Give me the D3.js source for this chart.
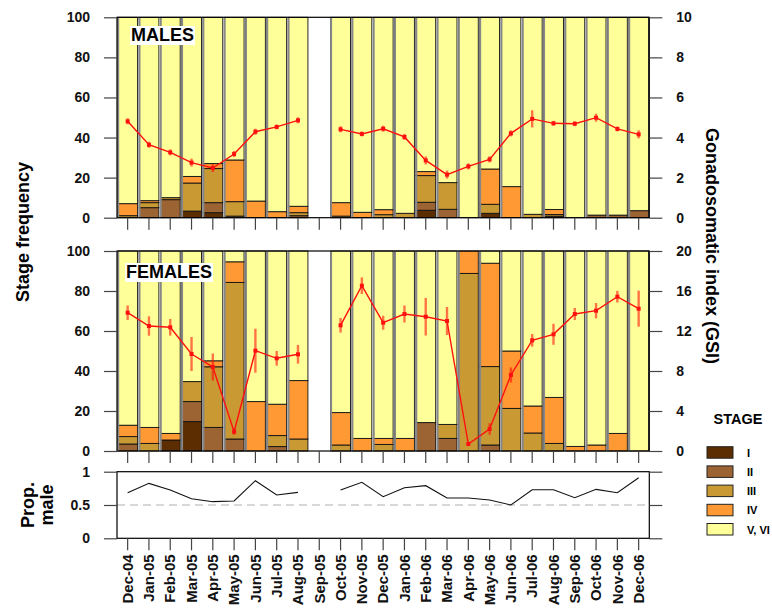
<!DOCTYPE html>
<html><head><meta charset="utf-8">
<script src="https://cdn.jsdelivr.net/npm/d3@7"></script>
<style>body{margin:0;background:#fff}svg{display:block;font-family:"Liberation Sans",Arial,sans-serif;font-weight:bold}</style>
</head><body>
<svg id="c" width="772" height="615"></svg>
<script>
const months = ["Dec-04","Jan-05","Feb-05","Mar-05","Apr-05","May-05","Jun-05","Jul-05","Aug-05","Sep-05","Oct-05","Nov-05","Dec-05","Jan-06","Feb-06","Mar-06","Apr-06","May-06","Jun-06","Jul-06","Aug-06","Sep-06","Oct-06","Nov-06","Dec-06"];
const stages = ["I","II","III","IV","V, VI"];
const stageColors = ["#5c2d00","#9c6433","#c99a33","#ff9933","#ffff99"];

const maleI   = [0,0,0,3.3,2.5,0,0,0,0,null,0,0,0,0,3.7,0,0,2.2,0,0,0.8,0,0,0,0];
const maleII  = [0,5,9,0,5,0.8,0,0,1,null,0,0,0,0,4,4.2,0,0,0,0,0,0,1.3,1.3,3.5];
const maleIII = [1,2.5,1,14,17,7.2,0,0,1.5,null,0.8,0,1.5,2.2,13.3,13.3,0,4.5,0,1.7,0.8,0,0,0,0];
const maleIV  = [6,1,0,3.3,2.5,20.8,8.3,3,3.2,null,6.7,2.7,2.5,0,2,0,0,17.6,15.5,0,2.5,0,0,0,0];
const maleV   = [93,91.5,90,79.4,73,71.2,91.7,97,94.3,null,92.5,97.3,96,97.8,77,82.5,100,75.7,84.5,98.3,95.9,100,98.7,98.7,96.5];

const femI   = [0,0,5.5,14.7,0,0,0,0,0,null,0,0,0,0,0,0,0,0,0,0,0,0,0,0,0];
const femII  = [3.5,0,0,10,11.8,6,0,2.2,0,null,0,0,0,0,14.2,6.3,0,3,0,0,0,0,0,0,0];
const femIII = [3.7,3.8,0,10,30.3,78.3,0,5.5,6,null,3,0,3.3,0,0,7,88.8,39.2,21.3,9,3.8,0,0,0,0];
const femIV  = [5.7,8,3.3,0,3,10.3,24.7,15.7,29.2,null,16.2,6.3,3,6.3,0,0,11.2,51.7,28.7,13.5,23,2.3,3,8.8,0];
const femV   = [87.1,88.2,91.2,65.3,54.9,5.4,75.3,76.6,64.8,null,80.8,93.7,93.7,93.7,85.8,86.7,0,6.1,50,77.5,73.2,97.7,97,91.2,100];

const maleGSI = [4.81,3.64,3.26,2.75,2.48,3.18,4.29,4.53,4.86,null,4.41,4.18,4.44,4.03,2.86,2.15,2.56,2.91,4.21,4.93,4.71,4.69,4.99,4.43,4.16];
const maleErr = [0.15,0.15,0.15,0.2,0.2,0.15,0.15,0.12,0.15,null,0.15,0.12,0.15,0.15,0.2,0.2,0.15,0.15,0.15,0.43,0.12,0.12,0.2,0.12,0.2];
const femGSI  = [13.83,12.5,12.37,9.7,8.4,1.93,10.03,9.27,9.67,null,12.57,16.53,12.83,13.7,13.43,13.0,0.7,2.2,7.6,11.07,11.67,13.7,14.03,15.43,14.23];
const femErr  = [0.72,0.97,0.83,1.7,1.35,0.3,2.2,0.73,0.93,null,0.73,0.83,0.7,0.85,1.88,1.4,0.1,0.58,0.75,0.63,1.05,0.6,0.77,0.58,1.8];
const propMale = [0.685,0.825,0.725,0.595,0.55,0.56,0.865,0.65,0.69,null,0.725,0.84,0.625,0.76,0.79,0.605,0.605,0.575,0.5,0.73,0.73,0.61,0.735,0.685,0.91];

const freqTicks = [0,20,40,60,80,100];
const maleGsiTicks = [0,2,4,6,8,10];
const femGsiTicks = [0,4,8,12,16,20];
const propTicks = [0,0.5,1];

const svg = d3.select("#c");
const x = d3.scaleBand().domain(months).range([117, 649.3]).padding(0);
const L = 117, R = 649.3;

function panel(cfg){
  const y = d3.scaleLinear().domain([0,100]).range([cfg.bottom, cfg.top]);
  const y2 = d3.scaleLinear().domain([0,cfg.gsiMax]).range([cfg.bottom, cfg.top]);
  const g = svg.append("g");
  const series = cfg.stacks;
  const bw = x.bandwidth() - 1.6;
  months.forEach((m,i)=>{
    if (series[0][i] === null) return;
    const bx = x(m) + 0.9;
    let acc = 0;
    series.forEach((s,k)=>{
      const v = s[i];
      if (v > 0){
        g.append("rect").attr("x", bx).attr("width", bw)
          .attr("y", y(acc+v)).attr("height", y(acc)-y(acc+v))
          .attr("fill", stageColors[k]).attr("stroke", "#111").attr("stroke-width", 0.9);
      }
      acc += v;
    });
    g.append("line").attr("x1", bx+0.4).attr("x2", bx+0.4).attr("y1", y(0)).attr("y2", y(100))
      .attr("stroke","#888").attr("stroke-width",1.8);
  });
  g.append("rect").attr("x",L).attr("y",cfg.top).attr("width",R-L).attr("height",cfg.bottom-cfg.top)
    .attr("fill","none").attr("stroke","#000").attr("stroke-width",1.2);
  const la = g.append("g").attr("transform",`translate(${L},0)`)
    .call(d3.axisLeft(y).tickValues(freqTicks).tickSize(13).tickPadding(14).tickFormat(d3.format("d")));
  la.select(".domain").remove();
  la.selectAll("line").attr("stroke","#444").attr("stroke-width",1.2);
  la.selectAll("text").attr("font-size",14).attr("font-weight","bold").attr("fill","#111");
  const ra = g.append("g").attr("transform",`translate(${R},0)`)
    .call(d3.axisRight(y2).tickValues(cfg.gsiTicks).tickSize(13).tickPadding(14).tickFormat(d3.format("d")));
  ra.select(".domain").remove();
  ra.selectAll("line").attr("stroke","#444").attr("stroke-width",1.2);
  ra.selectAll("text").attr("font-size",14).attr("font-weight","bold").attr("fill","#111");
  const ba = g.append("g").attr("transform",`translate(0,${cfg.bottom})`)
    .call(d3.axisBottom(x).tickSize(12).tickFormat(""));
  ba.select(".domain").remove();
  ba.selectAll("line").attr("stroke","#444").attr("stroke-width",1.2);
  const idx = d3.range(months.length);
  g.selectAll(".err").data(idx.filter(i=>cfg.gsi[i]!==null)).join("line")
    .attr("x1",i=>x(months[i])+x.bandwidth()/2).attr("x2",i=>x(months[i])+x.bandwidth()/2)
    .attr("y1",i=>y2(cfg.gsi[i]-cfg.err[i])).attr("y2",i=>y2(cfg.gsi[i]+cfg.err[i]))
    .attr("stroke","rgba(255,0,0,0.55)").attr("stroke-width",2.4);
  const line = d3.line().defined(i=>cfg.gsi[i]!==null)
    .x(i=>x(months[i])+x.bandwidth()/2).y(i=>y2(cfg.gsi[i]));
  g.append("path").datum(idx).attr("d",line).attr("fill","none").attr("stroke","#ff1010").attr("stroke-width",1.4);
  g.selectAll(".pt").data(idx.filter(i=>cfg.gsi[i]!==null)).join("rect")
    .attr("x",i=>x(months[i])+x.bandwidth()/2-2).attr("y",i=>y2(cfg.gsi[i])-2)
    .attr("width",4).attr("height",4).attr("fill","#ff1010");
  const bgr = g.append("rect").attr("fill","#fff");
  const t = g.append("text").attr("x",cfg.titleX).attr("y",cfg.titleY).attr("font-size",18)
    .attr("font-weight","bold").text(cfg.title);
  const bb = t.node().getBBox();
  bgr.attr("x",bb.x-1).attr("y",bb.y+1).attr("width",bb.width+2).attr("height",bb.height-1);
}

panel({top:17.3,bottom:217.7,gsiMax:10,gsiTicks:maleGsiTicks,stacks:[maleI,maleII,maleIII,maleIV,maleV],gsi:maleGSI,err:maleErr,title:"MALES",titleX:131,titleY:41});
panel({top:251,bottom:451,gsiMax:20,gsiTicks:femGsiTicks,stacks:[femI,femII,femIII,femIV,femV],gsi:femGSI,err:femErr,title:"FEMALES",titleX:126,titleY:278});

const pTop = 471.7, pBot = 538.3;
const yp = d3.scaleLinear().domain([0,1]).range([pBot,pTop]);
const pg = svg.append("g");
pg.append("line").attr("x1",L).attr("x2",R).attr("y1",yp(0.5)).attr("y2",yp(0.5))
  .attr("stroke","#cccccc").attr("stroke-width",1.6).attr("stroke-dasharray","8,5");
pg.append("rect").attr("x",L).attr("y",pTop).attr("width",R-L).attr("height",pBot-pTop)
  .attr("fill","none").attr("stroke","#000").attr("stroke-width",1.2);
const pla = pg.append("g").attr("transform",`translate(${L},0)`)
  .call(d3.axisLeft(yp).tickValues(propTicks).tickSize(13).tickPadding(14).tickFormat(d=>d===0.5?"0.5":d3.format("d")(d)));
pla.select(".domain").remove();
pla.selectAll("line").attr("stroke","#444").attr("stroke-width",1.2);
pla.selectAll("text").attr("font-size",14).attr("font-weight","bold").attr("fill","#111");
const pra = pg.append("g").attr("transform",`translate(${R},0)`)
  .call(d3.axisRight(yp).tickValues(propTicks).tickSize(13).tickFormat(""));
pra.select(".domain").remove();
pra.selectAll("line").attr("stroke","#444").attr("stroke-width",1.2);
const pba = pg.append("g").attr("transform",`translate(0,${pBot})`)
  .call(d3.axisBottom(x).tickSize(12).tickPadding(6));
pba.select(".domain").remove();
pba.selectAll("line").attr("stroke","#444").attr("stroke-width",1.2);
pba.selectAll("text").attr("font-size",15).attr("font-weight","bold").attr("fill","#111")
  .attr("text-anchor","end").attr("dy","0.35em")
  .attr("transform","translate(0,16) rotate(-90)").attr("x",0).attr("y",0);
const pline = d3.line().defined(i=>propMale[i]!==null)
  .x(i=>x(months[i])+x.bandwidth()/2).y(i=>yp(propMale[i]));
pg.append("path").datum(d3.range(months.length)).attr("d",pline).attr("fill","none").attr("stroke","#111").attr("stroke-width",1.1);

svg.append("text").attr("transform","translate(29,232) rotate(-90)").attr("text-anchor","middle")
  .attr("font-size",18).attr("font-weight","bold").text("Stage frequency");
svg.append("text").attr("transform","translate(706,246) rotate(90)").attr("text-anchor","middle")
  .attr("font-size",18).attr("font-weight","bold").text("Gonadosomatic index (GSI)");
svg.append("text").attr("transform","translate(34,505) rotate(-90)").attr("text-anchor","middle")
  .attr("font-size",18).attr("font-weight","bold").text("Prop.");
svg.append("text").attr("transform","translate(53,505) rotate(-90)").attr("text-anchor","middle")
  .attr("font-size",18).attr("font-weight","bold").text("male");

const lg = svg.append("g");
lg.append("text").attr("x",738).attr("y",424).attr("text-anchor","middle").attr("font-size",14.5).attr("font-weight","bold").text("STAGE");
stages.forEach((s,k)=>{
  const yy = 446.7 + k*19.2;
  lg.append("rect").attr("x",707).attr("y",yy).attr("width",26).attr("height",11.5)
    .attr("fill",stageColors[k]).attr("stroke","#222").attr("stroke-width",1);
  lg.append("text").attr("x",747).attr("y",yy+10).attr("font-size",11).attr("font-weight","bold").text(s);
});
</script>
</body></html>
